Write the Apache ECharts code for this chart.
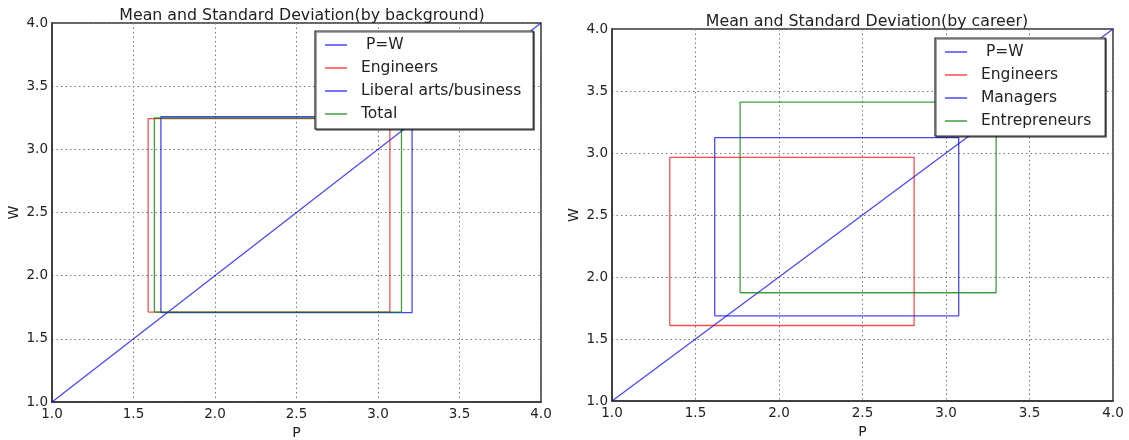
<!DOCTYPE html>
<html>
<head>
<meta charset="utf-8">
<script src="https://cdn.jsdelivr.net/npm/echarts@6/dist/echarts.min.js"></script>
<style>html,body{margin:0;padding:0;background:#fff}#c{width:1129px;height:440px}</style>
</head>
<body>
<div id="c"></div>
<script>
// ---- data ----
const titles = ['Mean and Standard Deviation(by background)', 'Mean and Standard Deviation(by career)'];
const pwLine = [[1, 1], [4, 4]];
// background groups (left chart): rectangle bounds [pLow, pHigh, wLow, wHigh]
const bgNames = ['Engineers', 'Liberal arts/business', 'Total'];
const bgPLow  = [1.59, 1.668, 1.628];
const bgPHigh = [3.073, 3.209, 3.144];
const bgWLow  = [1.712, 1.707, 1.712];
const bgWHigh = [3.243, 3.258, 3.248];
// career groups (right chart)
const crNames = ['Engineers', 'Managers', 'Entrepreneurs'];
const crPLow  = [1.346, 1.615, 1.767];
const crPHigh = [2.809, 3.076, 3.30];
const crWLow  = [1.609, 1.687, 1.873];
const crWHigh = [2.965, 3.124, 3.41];

const BLUE = 'rgba(0,0,255,0.72)', RED = 'rgba(255,0,0,0.7)', GREEN = 'rgba(0,128,0,0.75)';
const bgColors = [RED, BLUE, GREEN];
const crColors = [RED, BLUE, GREEN];
const FONT = 'DejaVu Sans';

function rect(pl, ph, wl, wh) {
  return [[pl, wl], [pl, wh], [ph, wh], [ph, wl], [pl, wl]];
}

function xAx(gi) {
  return {
    type: 'value', gridIndex: gi, min: 1, max: 4, interval: 0.5,
    name: 'P', nameLocation: 'middle', nameGap: 23,
    nameTextStyle: { fontFamily: FONT, fontSize: 14, color: '#222' },
    axisLine: { show: true, onZero: false, lineStyle: { color: '#333', width: 1.5 } },
    axisTick: { show: false },
    axisLabel: { fontFamily: FONT, fontSize: 13.5, color: '#222', margin: 5, formatter: v => v.toFixed(1) },
    splitLine: { show: true, lineStyle: { type: [1.5, 3], color: '#777', width: 1 } }
  };
}
function yAx(gi) {
  return {
    type: 'value', gridIndex: gi, min: 1, max: 4, interval: 0.5,
    name: 'W', nameLocation: 'middle', nameGap: 31, nameRotate: 90,
    nameTextStyle: { fontFamily: FONT, fontSize: 14, color: '#222' },
    axisLine: { show: true, onZero: false, lineStyle: { color: '#333', width: 1.5 } },
    axisTick: { show: false },
    axisLabel: { fontFamily: FONT, fontSize: 13.5, color: '#222', margin: 4, formatter: v => v.toFixed(1) },
    splitLine: { show: true, lineStyle: { type: [1.5, 3], color: '#777', width: 1 } }
  };
}
function lineSeries(name, data, color, gi) {
  return {
    type: 'line', name: name, data: data, xAxisIndex: gi, yAxisIndex: gi,
    showSymbol: false, symbol: 'none', animation: false, silent: true,
    lineStyle: { color: color, width: 1.3 }, itemStyle: { color: color }
  };
}

const series = [];
series.push(lineSeries(' P=W', pwLine, BLUE, 0));
bgNames.forEach((n, i) => series.push(lineSeries(n, rect(bgPLow[i], bgPHigh[i], bgWLow[i], bgWHigh[i]), bgColors[i], 0)));
series.push(lineSeries(' P=W ', pwLine, BLUE, 1));
crNames.forEach((n, i) => series.push(lineSeries(n + ' ', rect(crPLow[i], crPHigh[i], crWLow[i], crWHigh[i]), crColors[i], 1)));

function legend(left, top, names, padRight) {
  return {
    orient: 'vertical', left: left, top: top,
    data: names.map(n => ({ name: n, icon: 'rect' })),
    itemWidth: 22, itemHeight: 1.5, itemGap: 5,
    textStyle: { fontFamily: FONT, fontSize: 15.5, color: '#222', lineHeight: 18, padding: [0, 0, 0, 9] },
    backgroundColor: '#fff', borderColor: '#222', borderWidth: 1.2, borderRadius: 0,
    padding: [5, padRight, 6, 10],
    shadowColor: 'rgba(0,0,0,0.45)', shadowOffsetX: 1.2, shadowOffsetY: 1.2, shadowBlur: 0,
    selectedMode: false, z: 10
  };
}

const option = {
  animation: false,
  backgroundColor: '#fff',
  title: [
    { text: titles[0], left: 297, top: 3, textAlign: 'center', textStyle: { fontFamily: FONT, fontSize: 15.8, fontWeight: 'normal', color: '#222' } },
    { text: titles[1], left: 862, top: 9, textAlign: 'center', textStyle: { fontFamily: FONT, fontSize: 15.8, fontWeight: 'normal', color: '#222' } }
  ],
  grid: [
    { left: 52, right: 588, top: 23, bottom: 38, outerBoundsMode: 'none', containLabel: false, show: true, borderColor: '#333', borderWidth: 1.5, backgroundColor: 'transparent' },
    { left: 612, right: 16, top: 29, bottom: 39, outerBoundsMode: 'none', containLabel: false, show: true, borderColor: '#333', borderWidth: 1.5, backgroundColor: 'transparent' }
  ],
  xAxis: [xAx(0), xAx(1)],
  yAxis: [yAx(0), yAx(1)],
  legend: [
    legend(315, 31, [' P=W', ...bgNames], 12),
    legend(935, 38, [' P=W ', ...crNames.map(n => n + ' ')], 9)
  ],
  series: series
};
const chart = echarts.init(document.getElementById('c'), null, { renderer: 'canvas' });
chart.setOption(option);
</script>
</body>
</html>
